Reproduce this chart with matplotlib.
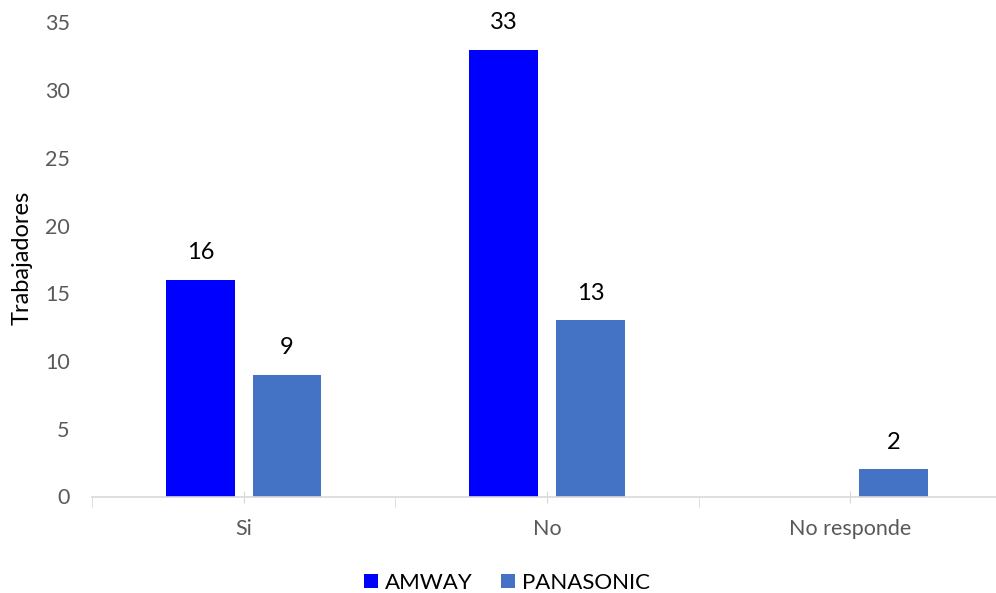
import matplotlib
matplotlib.use("Agg")
import matplotlib.pyplot as plt
import numpy as np

categorias = ["Si", "No", "No responde"]
amway = [16, 33, np.nan]
panasonic = [9, 13, 2]
series = ["AMWAY", "PANASONIC"]
colores = ["#0000FF", "#4472C4"]

plt.rcParams["font.family"] = ["Lato", "DejaVu Sans"]

fig = plt.figure(figsize=(9.96, 5.93), dpi=100)
ax = fig.add_axes([92 / 996, (593 - 496.5) / 593, (1002 - 92) / 996, (496.5 - 22.5) / 593])

x = np.arange(len(categorias))
ancho = 0.226
desp = 0.143

for vals, nombre, color, d in zip([amway, panasonic], series, colores, [-desp, desp]):
    ax.bar(x + d, vals, width=ancho, color=color, label=nombre, zorder=2)
    for xi, v in zip(x + d, vals):
        if not np.isnan(v):
            ax.annotate(f"{v:g}", (xi, v), xytext=(0, 19.5), textcoords="offset points",
                        ha="center", va="center", fontsize=17, color="black")

ax.set_xlim(-0.5, 2.5)
ax.set_ylim(0, 35)
ax.set_yticks(range(0, 36, 5))
ax.set_xticks(x)
ax.set_xticklabels(categorias)
ax.set_xticks(np.arange(-0.5, 3, 1), minor=True)

for s in ["top", "right", "left"]:
    ax.spines[s].set_visible(False)
ax.spines["bottom"].set_color("#D9D9D9")
ax.spines["bottom"].set_linewidth(1.2)

ax.tick_params(axis="y", length=0, labelsize=15.5, labelcolor="#595959", pad=16)
ax.tick_params(axis="x", which="major", direction="inout", length=8, color="#D9D9D9",
               labelsize=15.5, labelcolor="#595959", pad=12)
ax.tick_params(axis="x", which="minor", direction="out", length=7, color="#D9D9D9")

fig.text(22 / 996, 1 - 258 / 593, "Trabajadores", rotation=90, ha="center", va="center",
         fontsize=17, color="black")

fig.legend(loc="center", bbox_to_anchor=(507 / 996, 1 - 583 / 593), ncol=2, frameon=False,
           fontsize=16, handlelength=0.63, handleheight=0.63, handletextpad=0.3,
           columnspacing=1.3)

fig.savefig("out.png", dpi=100)
